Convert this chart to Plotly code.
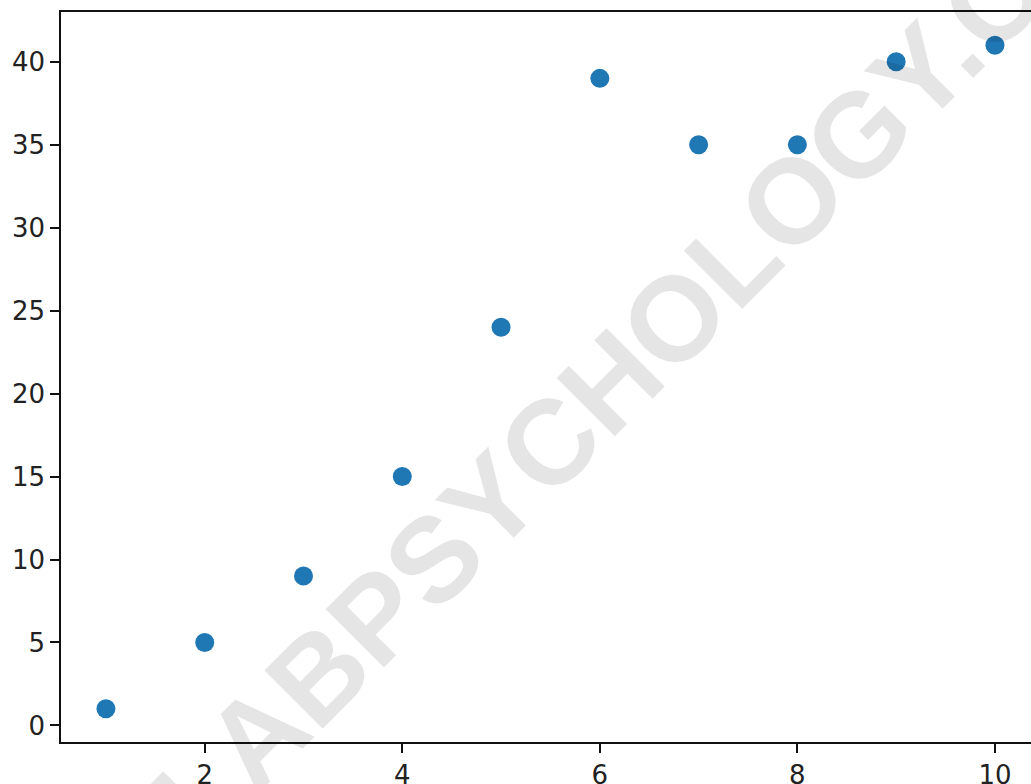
import plotly.graph_objects as go

x_values = [1, 2, 3, 4, 5, 6, 7, 8, 9, 10]
y_values = [1, 5, 9, 15, 24, 39, 35, 35, 40, 41]
x_ticks = [2, 4, 6, 8, 10]
y_ticks = [0, 5, 10, 15, 20, 25, 30, 35, 40]
watermark = "LABPSYCHOLOGY.COM"

fig = go.Figure()
fig.add_trace(go.Scatter(
    x=x_values, y=y_values, mode="markers",
    marker=dict(color="#1f77b4", size=19, line=dict(width=0)),
    showlegend=False,
))

axis_common = dict(
    showgrid=False, zeroline=False, showline=True, linecolor="#111111", linewidth=1.6,
    ticks="outside", ticklen=9, tickwidth=1.5, tickcolor="#111111", automargin=False,
    tickfont=dict(family="DejaVu Sans", size=26, color="#222222"),
)
fig.update_xaxes(range=[0.545, 10.365], tickvals=x_ticks, ticktext=[str(t) for t in x_ticks],
                 mirror=True, **axis_common)
fig.update_yaxes(range=[-1, 43], tickvals=y_ticks, ticktext=[str(t) for t in y_ticks],
                 mirror=False, **axis_common)

fig.add_annotation(
    text=watermark, xref="paper", yref="paper", x=0.6247, y=0.5712,
    xanchor="center", yanchor="middle", showarrow=False, textangle=-45,
    font=dict(family="Liberation Sans", size=120, color="rgba(0,0,0,0.1)", weight="bold"),
)

fig.update_layout(
    width=1031, height=784,
    margin=dict(l=61, r=0, t=12, b=42),
    plot_bgcolor="white", paper_bgcolor="white",
)
fig.write_html(
    "out.html",
    config={"displayModeBar": False},
    post_script="document.body.style.margin='0';document.body.style.overflow='hidden';",
)
